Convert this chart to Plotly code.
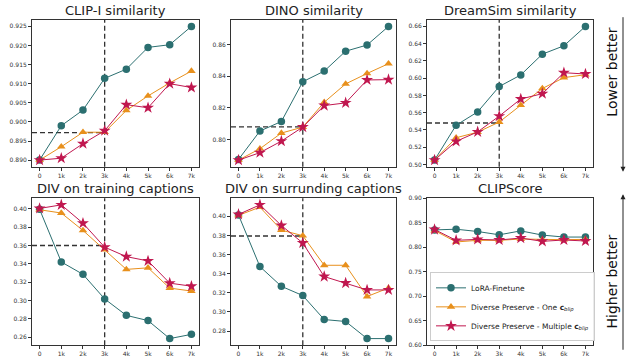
import plotly.graph_objects as go
from plotly.subplots import make_subplots

steps = ["0", "1k", "2k", "3k", "4k", "5k", "6k", "7k"]
xs = [0, 1, 2, 3, 4, 5, 6, 7]

titles = ["CLIP-I similarity", "DINO similarity", "DreamSim similarity",
          "DIV on training captions", "DIV on surrunding captions", "CLIPScore"]

lora = [
    [0.890, 0.899, 0.9031, 0.9114, 0.9138, 0.9195, 0.9202, 0.925],
    [0.7874, 0.8054, 0.8114, 0.8366, 0.8433, 0.8559, 0.8598, 0.8716],
    [0.505, 0.5454, 0.5609, 0.5903, 0.6037, 0.6278, 0.6375, 0.660],
    [0.3995, 0.3421, 0.3286, 0.3018, 0.2839, 0.2782, 0.2586, 0.2632],
    [0.4014, 0.3474, 0.3268, 0.3171, 0.2920, 0.2900, 0.2721, 0.2721],
    [0.8353, 0.8367, 0.8320, 0.8253, 0.8333, 0.8247, 0.8207, 0.8207],
]
one_blip = [
    [0.890, 0.8935, 0.8973, 0.8973, 0.9030, 0.9068, 0.9102, 0.9133],
    [0.7870, 0.7942, 0.8041, 0.8079, 0.8236, 0.8352, 0.8418, 0.8480],
    [0.505, 0.5309, 0.5374, 0.5491, 0.5686, 0.5880, 0.6006, 0.6040],
    [0.3990, 0.3954, 0.3764, 0.3554, 0.3340, 0.3357, 0.3136, 0.3104],
    [0.4010, 0.4096, 0.3856, 0.3797, 0.3488, 0.3488, 0.3161, 0.3250],
    [0.8340, 0.8107, 0.8140, 0.8140, 0.8167, 0.8153, 0.8153, 0.8160],
]
multi_blip = [
    [0.890, 0.8905, 0.8943, 0.8977, 0.9045, 0.9037, 0.9100, 0.9090],
    [0.7870, 0.7917, 0.7990, 0.8079, 0.8215, 0.8232, 0.8377, 0.8379],
    [0.505, 0.5267, 0.5377, 0.5560, 0.5758, 0.5820, 0.6063, 0.6048],
    [0.4004, 0.4043, 0.3843, 0.3582, 0.3479, 0.3432, 0.3190, 0.3157],
    [0.4020, 0.4120, 0.3904, 0.3721, 0.3370, 0.3302, 0.3230, 0.3230],
    [0.8360, 0.8140, 0.8160, 0.8147, 0.8187, 0.8120, 0.8147, 0.8127],
]
ref_level = [0.8972, 0.808, 0.548, 0.360, 0.3794, None]
ref_step = 3

y_ticks = [
    [0.890, 0.895, 0.900, 0.905, 0.910, 0.915, 0.920, 0.925],
    [0.80, 0.82, 0.84, 0.86],
    [0.50, 0.52, 0.54, 0.56, 0.58, 0.60, 0.62, 0.64, 0.66],
    [0.26, 0.28, 0.30, 0.32, 0.34, 0.36, 0.38, 0.40],
    [0.28, 0.30, 0.32, 0.34, 0.36, 0.38, 0.40],
    [0.60, 0.65, 0.70, 0.75, 0.80, 0.85, 0.90],
]
y_fmt = [".3f", ".2f", ".2f", ".2f", ".2f", ".2f"]
fixed_range = [None, None, None, None, None, [0.60, 0.90]]

series_names = ["LoRA-Finetune",
                "Diverse Preserve - One <b>c</b><sub><i>blip</i></sub>",
                "Diverse Preserve - Multiple <b>c</b><sub><i>blip</i></sub>"]
colors = ["#2b6f70", "#e8901c", "#c0174f"]
symbols = ["circle", "triangle-up", "star"]
msizes = [7.5, 7.5, 9]

W, H = 626, 362
fig = make_subplots(rows=2, cols=3)

xdoms = [(32, 199), (231, 396), (427, 593)]
ydoms = [(16, 166), (198, 348)]

for i in range(6):
    r, c = i // 3 + 1, i % 3 + 1
    data = [lora[i], one_blip[i], multi_blip[i]]
    for k in range(3):
        fig.add_trace(go.Scatter(
            x=xs, y=data[k], mode="lines+markers", name=series_names[k],
            line=dict(color=colors[k], width=1),
            marker=dict(symbol=symbols[k], size=msizes[k], color=colors[k]),
            showlegend=(i == 5), legendrank=k + 1), row=r, col=c)
    allv = [v for d in data for v in d]
    if fixed_range[i]:
        yr = fixed_range[i]
    else:
        lo, hi = min(allv), max(allv)
        m = (hi - lo) * 0.05
        yr = [lo - m, hi + m]
    ax = "" if i == 0 else str(i + 1)
    x0, x1 = xdoms[c - 1]
    y0, y1 = ydoms[r - 1]
    fig.layout["xaxis" + ax].update(
        domain=[x0 / W, x1 / W], range=[-0.35, 7.35], tickvals=xs, ticktext=steps,
        showline=True, mirror=True, linecolor="#333", linewidth=1, ticks="outside",
        ticklen=3, tickcolor="#333", tickfont=dict(size=6, color="#333"),
        showgrid=False, zeroline=False)
    fig.layout["yaxis" + ax].update(
        domain=[1 - y1 / H, 1 - y0 / H], range=yr, tickvals=y_ticks[i],
        tickformat=y_fmt[i], showline=True, mirror=True, linecolor="#333",
        linewidth=1, ticks="outside", ticklen=3, tickcolor="#333",
        tickfont=dict(size=6, color="#333"), showgrid=False, zeroline=False)
    if ref_level[i] is not None:
        xr, yr_ = "x" + ax, "y" + ax
        fig.add_shape(type="line", xref=xr, yref=yr_ + " domain", x0=ref_step, x1=ref_step,
                      y0=0, y1=1, line=dict(color="#333", width=1.3, dash="5px,3px"), layer="below")
        fig.add_shape(type="line", xref=xr, yref=yr_, x0=-0.35, x1=ref_step,
                      y0=ref_level[i], y1=ref_level[i],
                      line=dict(color="#333", width=1.3, dash="5px,3px"), layer="below")
    # panel title
    fig.add_annotation(x=(x0 + x1) / 2 / W, y=1 - y0 / H, xref="paper", yref="paper",
                       text=titles[i], showarrow=False, xanchor="center", yanchor="bottom",
                       yshift=0, font=dict(size=13, color="#222", family="DejaVu Sans"))

# right side labels and arrows
fig.add_annotation(x=612 / W, y=1 - 70 / H, xref="paper", yref="paper", text="Lower better",
                   textangle=-90, showarrow=False, xanchor="center", yanchor="middle",
                   font=dict(size=14, color="#111", family="DejaVu Sans"))
fig.add_annotation(x=612 / W, y=1 - 283 / H, xref="paper", yref="paper", text="Higher better",
                   textangle=-90, showarrow=False, xanchor="center", yanchor="middle",
                   font=dict(size=14, color="#111", family="DejaVu Sans"))
fig.add_annotation(x=623 / W, y=1 - 171 / H, xref="paper", yref="paper", text="",
                   showarrow=True, ax=0, ay=-156, arrowhead=2, arrowwidth=1, arrowsize=1,
                   arrowcolor="#222")
fig.add_annotation(x=623 / W, y=1 - 194 / H, xref="paper", yref="paper", text="",
                   showarrow=True, ax=0, ay=157, arrowhead=2, arrowwidth=1, arrowsize=1,
                   arrowcolor="#222")

fig.update_layout(
    width=W, height=H, margin=dict(l=0, r=0, t=0, b=0),
    paper_bgcolor="white", plot_bgcolor="white",
    font=dict(family="DejaVu Sans", color="#222"),
    legend=dict(x=430 / W, y=1 - 344 / H, xanchor="left", yanchor="bottom",
                bgcolor="rgba(255,255,255,0.9)", bordercolor="#ccc", borderwidth=1,
                font=dict(size=7.5, color="#222"), tracegroupgap=0, itemwidth=30),
)

fig.write_html("out.html", config={"displayModeBar": False},
               post_script="document.body.style.margin='0';")
